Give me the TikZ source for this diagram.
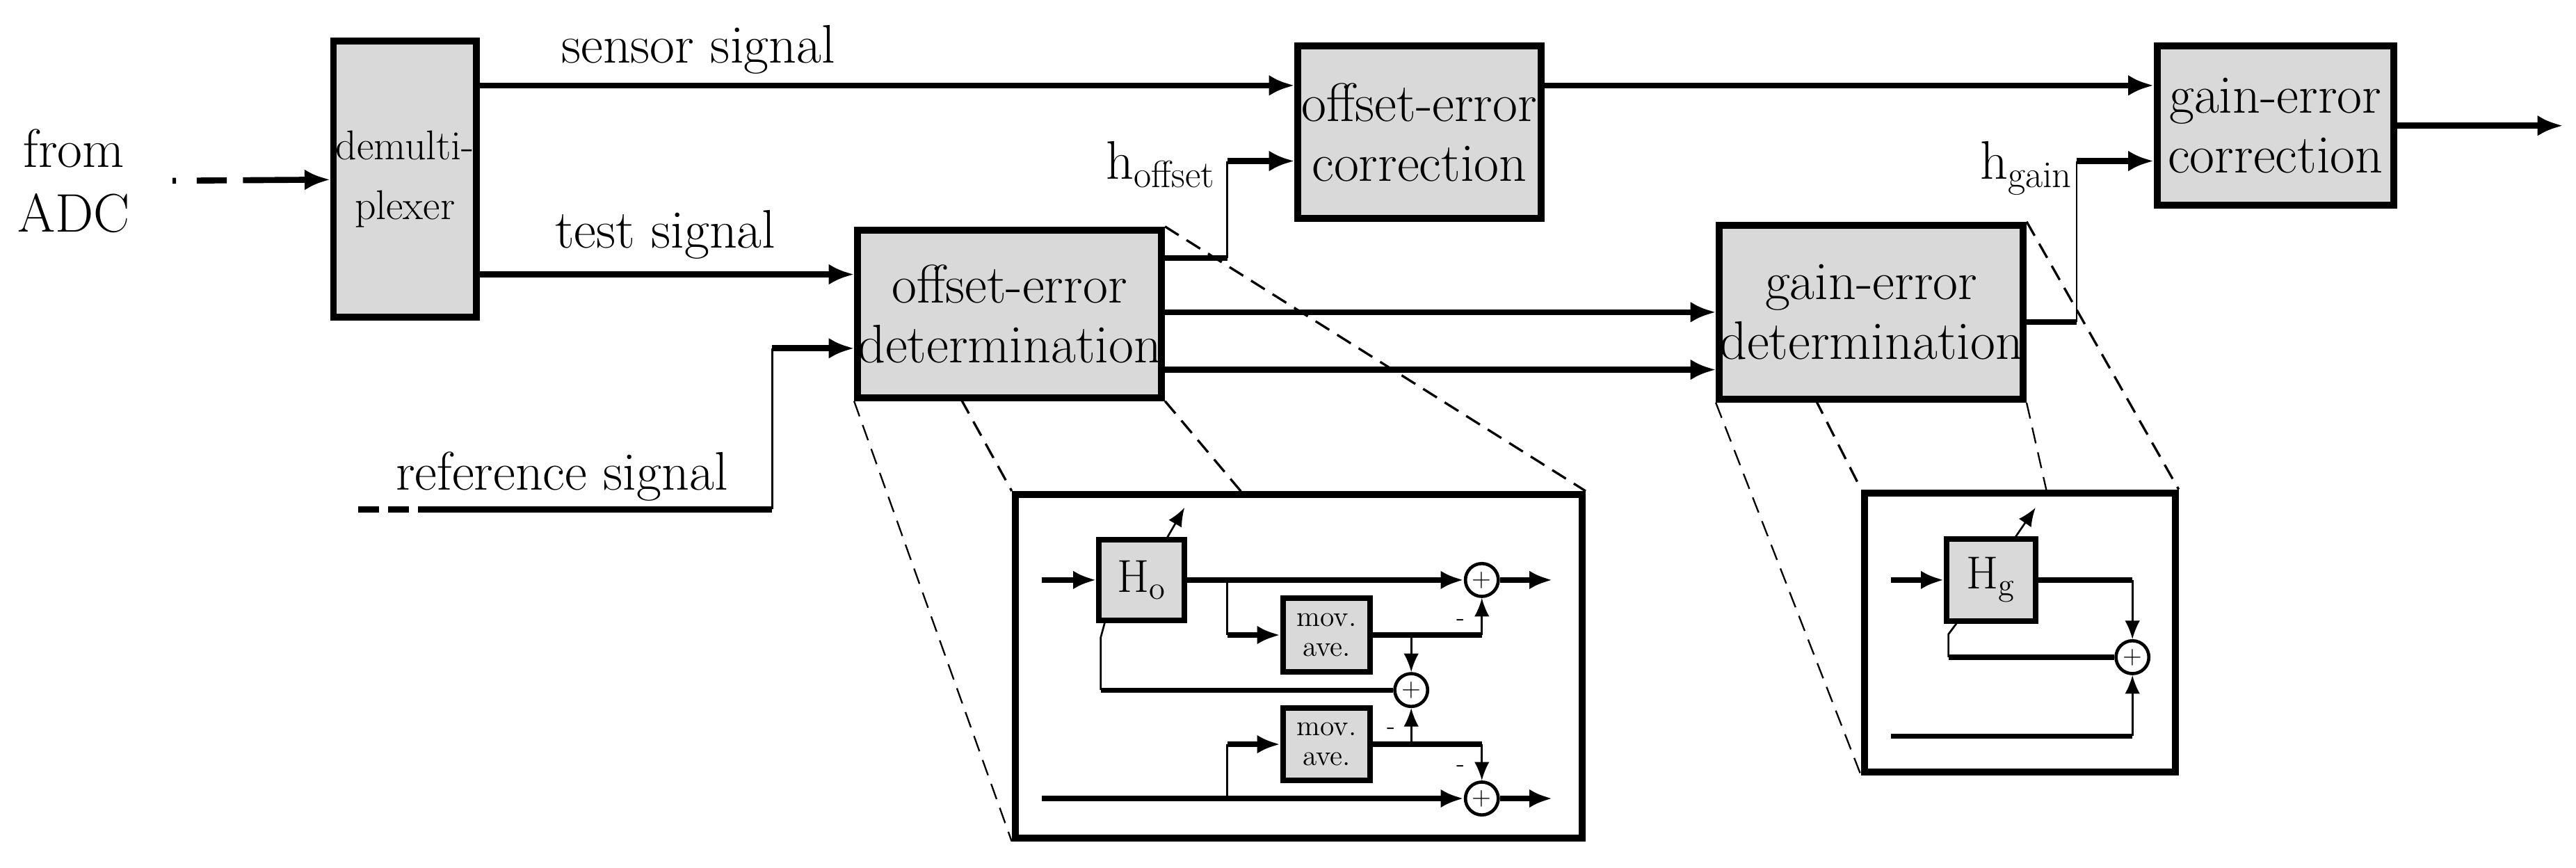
\documentclass[tikz,border=0pt]{standalone}
\usetikzlibrary{arrows.meta}
\definecolor{boxgray}{RGB}{217,217,217}

\begin{document}
\begin{tikzpicture}[x=0.025cm,y=-0.025cm]
        \tikzset{block/.style = {shape=rectangle,draw,fill=boxgray,line width=3pt,inner sep=0pt,align=center,font=\fontsize{23.5}{26}\selectfont}};
        \tikzset{small/.style = {shape=rectangle,draw,fill=boxgray,line width=2.4pt,inner sep=0pt,align=center}};
        \tikzset{inset/.style = {shape=rectangle,draw,line width=3pt,inner sep=0pt}};
        \tikzset{sum/.style = {shape=circle,draw,line width=1.4pt,minimum size=0.5cm,inner sep=0pt,font=\fontsize{11}{11}\selectfont}};
        \tikzset{sig/.style = {line width=2.6pt,-{Latex[length=11pt,width=9pt]}}};
        \tikzset{wire/.style = {line width=2.6pt}};
        \tikzset{tap/.style = {line width=0.8pt}};
        \tikzset{tapedge/.style = {line width=0.8pt,-{Latex[length=8pt,width=6.5pt]}}};
        \tikzset{zoomln/.style = {line width=0.7pt,dash pattern=on 7pt off 4pt}};
        \tikzset{lbl/.style = {font=\fontsize{23.5}{28}\selectfont,inner sep=0pt}};
        \useasboundingbox (0,0) rectangle (1568,528);
        % main blocks
        \node[block,minimum width=2.175cm,minimum height=4.2cm] (demux) at (246.5,109) {\fontsize{18}{26}\selectfont demulti-\\\fontsize{18}{26}\selectfont plexer};
        \node[block,minimum width=3.7cm,minimum height=2.625cm] (offcorr) at (864,80.5) {offset-error\\correction};
        \node[block,minimum width=3.6cm,minimum height=2.425cm] (gaincorr) at (1385,76.5) {gain-error\\correction};
        \node[block,minimum width=4.625cm,minimum height=2.55cm] (offdet) at (614.5,191) {offset-error\\determination};
        \node[block,minimum width=4.55cm,minimum height=2.65cm] (gaindet) at (1139,190) {gain-error\\determination};
        \node[inset,minimum width=8.625cm,minimum height=5.225cm] (insO) at (790.5,405.5) {};
        \node[inset,minimum width=4.725cm,minimum height=4.25cm] (insG) at (1229.5,385) {};
        % labels
        \node[lbl,align=center] (adc) at (45,110) {from\\ADC};
        \node[lbl] (lsens) at (425,30) {sensor signal};
        \node[lbl] (ltest) at (405,143) {test signal};
        \node[lbl] (lref) at (342,290) {reference signal};
        \node[lbl,anchor=base east] (lho) at (740,109) {h\textsubscript{offset}};
        \node[lbl,anchor=base east] (lhg) at (1262,109) {h\textsubscript{gain}};
        % helper points
        \coordinate (adcin) at (105,110);
        \coordinate (ys) at (0,52);
        \coordinate (yt) at (0,167);
        \coordinate (out) at (1560,76.5);
        \coordinate (ref) at (218,310);
        \coordinate (refc) at (470,310);
        \coordinate (yr) at (0,212);
        \coordinate (hob) at (747,157);
        \coordinate (hot) at (747,98);
        \coordinate (hgb) at (1264,196);
        \coordinate (hgt) at (1264,98);
        \coordinate (y1) at (0,190);
        \coordinate (y2) at (0,225);
        % main connectors
        \draw[sig,dash pattern=on 1.5pt off 9pt on 13pt off 7pt on 80pt] (adcin) -- (demux);
        \draw[sig] (demux.east |- ys) -- (offcorr.west |- ys);
        \draw[sig] (offcorr.east |- ys) -- (gaincorr.west |- ys);
        \draw[sig] (gaincorr) -- (out);
        \draw[sig] (demux.east |- yt) -- (offdet.west |- yt);
        \draw[wire,dash pattern=on 9pt off 4pt on 9pt off 4pt on 200pt] (ref) -- (refc);
        \draw[tap] (refc) -- (refc |- yr);
        \draw[sig] (refc |- yr) -- (offdet.west |- yr);
        \draw[wire] (offdet.east |- hob) -- (hob);
        \draw[tap] (hob) -- (hot);
        \draw[sig] (hot) -- (offcorr.west |- hot);
        \draw[sig] (offdet.east |- y1) -- (gaindet.west |- y1);
        \draw[sig] (offdet.east |- y2) -- (gaindet.west |- y2);
        \draw[wire] (gaindet.east |- hgb) -- (hgb);
        \draw[tap] (hgb) -- (hgt);
        \draw[sig] (hgt) -- (gaincorr.west |- hgt);
        % zoom lines
        \draw[zoomln] (offdet.south west) -- (insO.south west);
        \draw[zoomln,line width=1pt] (585,243) -- (insO.north west);
        \draw[zoomln,line width=1pt] (offdet.south east) -- (757,301);
        \draw[zoomln,line width=1pt] (offdet.north east) -- (insO.north east);
        \draw[zoomln] (gaindet.south west) -- (insG.south west);
        \draw[zoomln,line width=1pt] (1105,243) -- (insG.north west);
        \draw[zoomln] (gaindet.south east) -- (1246,300);
        \draw[zoomln,line width=1pt] (gaindet.north east) -- (insG.north east);
        % offset-error inset
        \tikzset{isig/.style = {line width=2.2pt,-{Latex[length=10pt,width=8pt]}}};
        \tikzset{iwire/.style = {line width=2.2pt}};
        \node[small,minimum width=1.3cm,minimum height=1.225cm,font=\fontsize{20}{20}\selectfont] (Ho) at (695,353) {H\textsubscript{o}};
        \node[small,minimum width=1.325cm,minimum height=1.125cm,font=\fontsize{12.5}{13}\selectfont] (mov1) at (807.5,386.5) {mov.\\ave.};
        \node[small,minimum width=1.325cm,minimum height=1.1cm,font=\fontsize{12.5}{13}\selectfont] (mov2) at (807.5,453) {mov.\\ave.};
        \node[sum] (s1) at (902,353) {+};
        \node[sum] (s2) at (859,420) {+};
        \node[sum] (s3) at (902,486) {+};
        \coordinate (oi) at (634,353);
        \coordinate (oo1) at (945,353);
        \coordinate (bi) at (634,486);
        \coordinate (oo3) at (945,486);
        \coordinate (b1) at (747,353);
        \coordinate (b1d) at (747,386.5);
        \coordinate (b2) at (747,486);
        \coordinate (b2u) at (747,453);
        \coordinate (m1r) at (902,386.5);
        \coordinate (m1b) at (859,386.5);
        \coordinate (m2r) at (902,453);
        \coordinate (m2b) at (859,453);
        \coordinate (fb0) at (673,377);
        \coordinate (fb1) at (670,388);
        \coordinate (fb2) at (670,420);
        \coordinate (ha0) at (710,328);
        \coordinate (ha1) at (721,309);
        \draw[isig] (oi) -- (Ho);
        \draw[isig] (Ho) -- (s1);
        \draw[isig] (s1) -- (oo1);
        \draw[tap] (b1) -- (b1d);
        \draw[isig] (b1d) -- (mov1);
        \draw[iwire] (mov1.east) -- (m1r);
        \draw[tapedge] (m1r) -- (s1);
        \draw[tapedge] (m1b) -- (s2);
        \draw[tap] (fb0) -- (fb1) -- (fb2);
        \draw[iwire] (fb2) -- (s2);
        \draw[isig] (bi) -- (s3);
        \draw[isig] (s3) -- (oo3);
        \draw[tap] (b2) -- (b2u);
        \draw[isig] (b2u) -- (mov2);
        \draw[iwire] (mov2.east) -- (m2r);
        \draw[tapedge] (m2r) -- (s3);
        \draw[tapedge] (m2b) -- (s2);
        \draw[tapedge] (ha0) -- (ha1);
        \node[font=\fontsize{11}{11}\selectfont] (n1) at (889,379) {-};
        \node[font=\fontsize{11}{11}\selectfont] (n2) at (847,445) {-};
        \node[font=\fontsize{11}{11}\selectfont] (n3) at (889,468) {-};
        % gain-error inset
        \node[small,minimum width=1.35cm,minimum height=1.25cm,font=\fontsize{20}{20}\selectfont] (Hg) at (1212,353) {H\textsubscript{g}};
        \node[sum] (sg) at (1298,400) {+};
        \coordinate (gi) at (1151,353);
        \coordinate (gr) at (1298,353);
        \coordinate (gb) at (1151,448);
        \coordinate (gbr) at (1298,448);
        \coordinate (gf0) at (1192,378);
        \coordinate (gf1) at (1186,386);
        \coordinate (gf2) at (1186,400);
        \coordinate (ga0) at (1226,328);
        \coordinate (ga1) at (1239,309);
        \draw[isig] (gi) -- (Hg);
        \draw[iwire] (Hg) -- (gr);
        \draw[tapedge] (gr) -- (sg);
        \draw[tap] (gf0) -- (gf1) -- (gf2);
        \draw[iwire] (gf2) -- (sg);
        \draw[iwire] (gb) -- (gbr);
        \draw[tapedge] (gbr) -- (sg);
        \draw[tapedge] (ga0) -- (ga1);
\end{tikzpicture}
\end{document}
